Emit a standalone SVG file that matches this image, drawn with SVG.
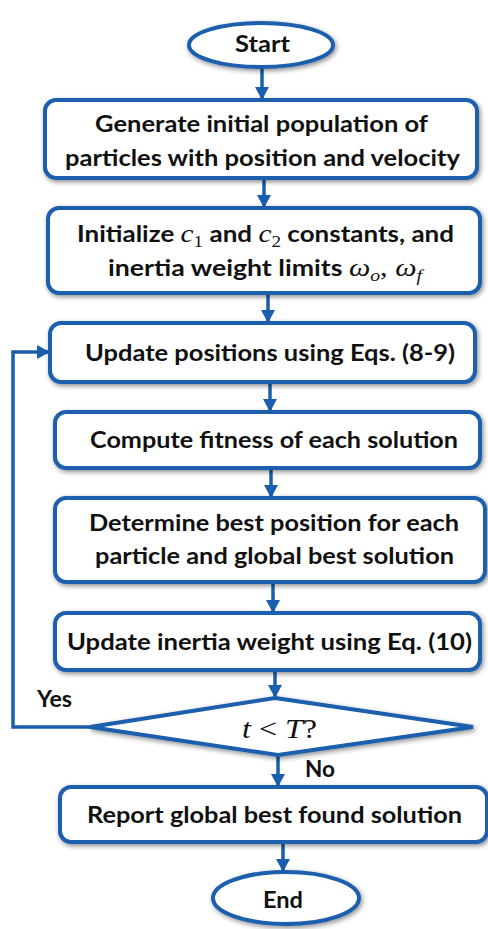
<svg xmlns="http://www.w3.org/2000/svg" width="488" height="929" viewBox="0 0 488 929">
  <style>
    .box { fill: #ffffff; stroke: #1a5ead; stroke-width: 4; filter: url(#shadow); }
    .lbl { font-family: Lato, "Liberation Sans", Arial, sans-serif; font-weight: bold; font-size: 23px; fill: #111111; text-anchor: middle; }
    .math { font-family: "Liberation Serif", "DejaVu Serif", serif; font-style: italic; font-weight: normal; font-size: 26px; }
    .up { font-style: normal; }
    .sub { font-size: 17px; }
    .conn { fill: none; stroke: #1a5ead; stroke-width: 3.5; }
  </style>
  <defs>
    <filter id="shadow" x="-10%" y="-20%" width="120%" height="150%">
      <feDropShadow dx="1.5" dy="2" stdDeviation="2.5" flood-color="#000000" flood-opacity="0.45"/>
    </filter>
    <marker id="arrow" markerUnits="userSpaceOnUse" markerWidth="14" markerHeight="14" refX="13" refY="7" orient="auto">
      <path d="M0,0 L13,7 L0,14 z" fill="#1a5ead"/>
    </marker>
  </defs>

  <rect width="488" height="929" fill="#ffffff"/>

  <!-- connectors -->
  <g id="connectors">
    <line class="conn" x1="262" y1="68" x2="262" y2="100" marker-end="url(#arrow)"/>
    <line class="conn" x1="264" y1="178" x2="264" y2="208" marker-end="url(#arrow)"/>
    <line class="conn" x1="268" y1="293" x2="268" y2="323" marker-end="url(#arrow)"/>
    <line class="conn" x1="270" y1="382" x2="270" y2="412" marker-end="url(#arrow)"/>
    <line class="conn" x1="271" y1="468" x2="271" y2="498" marker-end="url(#arrow)"/>
    <line class="conn" x1="273" y1="582" x2="273" y2="613" marker-end="url(#arrow)"/>
    <line class="conn" x1="275" y1="670" x2="275" y2="698" marker-end="url(#arrow)"/>
    <line class="conn" x1="278" y1="755" x2="278" y2="787" marker-end="url(#arrow)"/>
    <line class="conn" x1="283" y1="842" x2="283" y2="872" marker-end="url(#arrow)"/>
    <!-- loop back: Yes branch -->
    <path class="conn" d="M90,727 H13 V352 H50" marker-end="url(#arrow)"/>
  </g>

  <g id="start">
    <ellipse class="box" cx="261" cy="45" rx="72" ry="22"/>
    <text class="lbl" x="262.5" y="52" textLength="55" lengthAdjust="spacingAndGlyphs">Start</text>
  </g>

  <g id="generate">
    <rect class="box" x="45" y="100" width="432" height="78" rx="11"/>
    <text class="lbl" x="261.5" y="132" textLength="333" lengthAdjust="spacingAndGlyphs">Generate initial population of</text>
    <text class="lbl" x="262.5" y="166" textLength="395" lengthAdjust="spacingAndGlyphs">particles with position and velocity</text>
  </g>

  <g id="initialize">
    <rect class="box" x="48" y="208" width="432" height="85" rx="11"/>
    <text class="lbl" x="265.5" y="242" textLength="377" lengthAdjust="spacingAndGlyphs">Initialize <tspan class="math">c</tspan><tspan class="math up sub" dy="5">1</tspan><tspan dy="-5"> and </tspan><tspan class="math">c</tspan><tspan class="math up sub" dy="5">2</tspan><tspan dy="-5"> constants, and</tspan></text>
    <text class="lbl" x="265" y="276" textLength="314" lengthAdjust="spacingAndGlyphs">inertia weight limits <tspan class="math">ω</tspan><tspan class="math sub" dy="5">o</tspan><tspan class="math up" dy="-5">, </tspan><tspan class="math">ω</tspan><tspan class="math sub" dy="5">f</tspan></text>
  </g>

  <g id="update-positions">
    <rect class="box" x="50" y="323" width="425" height="59" rx="11"/>
    <text class="lbl" x="270" y="361" textLength="370" lengthAdjust="spacingAndGlyphs">Update positions using Eqs. (8-9)</text>
  </g>

  <g id="fitness">
    <rect class="box" x="55" y="412" width="425" height="56" rx="11"/>
    <text class="lbl" x="274" y="448" textLength="368" lengthAdjust="spacingAndGlyphs">Compute fitness of each solution</text>
  </g>

  <g id="best">
    <rect class="box" x="55" y="498" width="430" height="84" rx="11"/>
    <text class="lbl" x="274" y="531" textLength="370" lengthAdjust="spacingAndGlyphs">Determine best position for each</text>
    <text class="lbl" x="274.5" y="564" textLength="359" lengthAdjust="spacingAndGlyphs">particle and global best solution</text>
  </g>

  <g id="inertia">
    <rect class="box" x="55" y="613" width="425" height="57" rx="11"/>
    <text class="lbl" x="269.5" y="650" textLength="405" lengthAdjust="spacingAndGlyphs">Update inertia weight using Eq. (10)</text>
  </g>

  <g id="decision">
    <polygon class="box" points="275,698 473,727 278,755 90,727"/>
    <text class="lbl math" x="279.5" y="738" style="font-size:28px" textLength="75" lengthAdjust="spacingAndGlyphs">t <tspan class="up">&lt;</tspan> T<tspan class="up">?</tspan></text>
  </g>

  <text class="lbl" x="54.5" y="707" textLength="35" lengthAdjust="spacingAndGlyphs">Yes</text>
  <text class="lbl" x="320" y="777" textLength="30" lengthAdjust="spacingAndGlyphs">No</text>

  <g id="report">
    <rect class="box" x="60" y="787" width="427" height="55" rx="11"/>
    <text class="lbl" x="274.5" y="823" textLength="375" lengthAdjust="spacingAndGlyphs">Report global best found solution</text>
  </g>

  <g id="end">
    <ellipse class="box" cx="286" cy="898" rx="73" ry="26"/>
    <text class="lbl" x="283" y="908" textLength="40" lengthAdjust="spacingAndGlyphs">End</text>
  </g>
</svg>
